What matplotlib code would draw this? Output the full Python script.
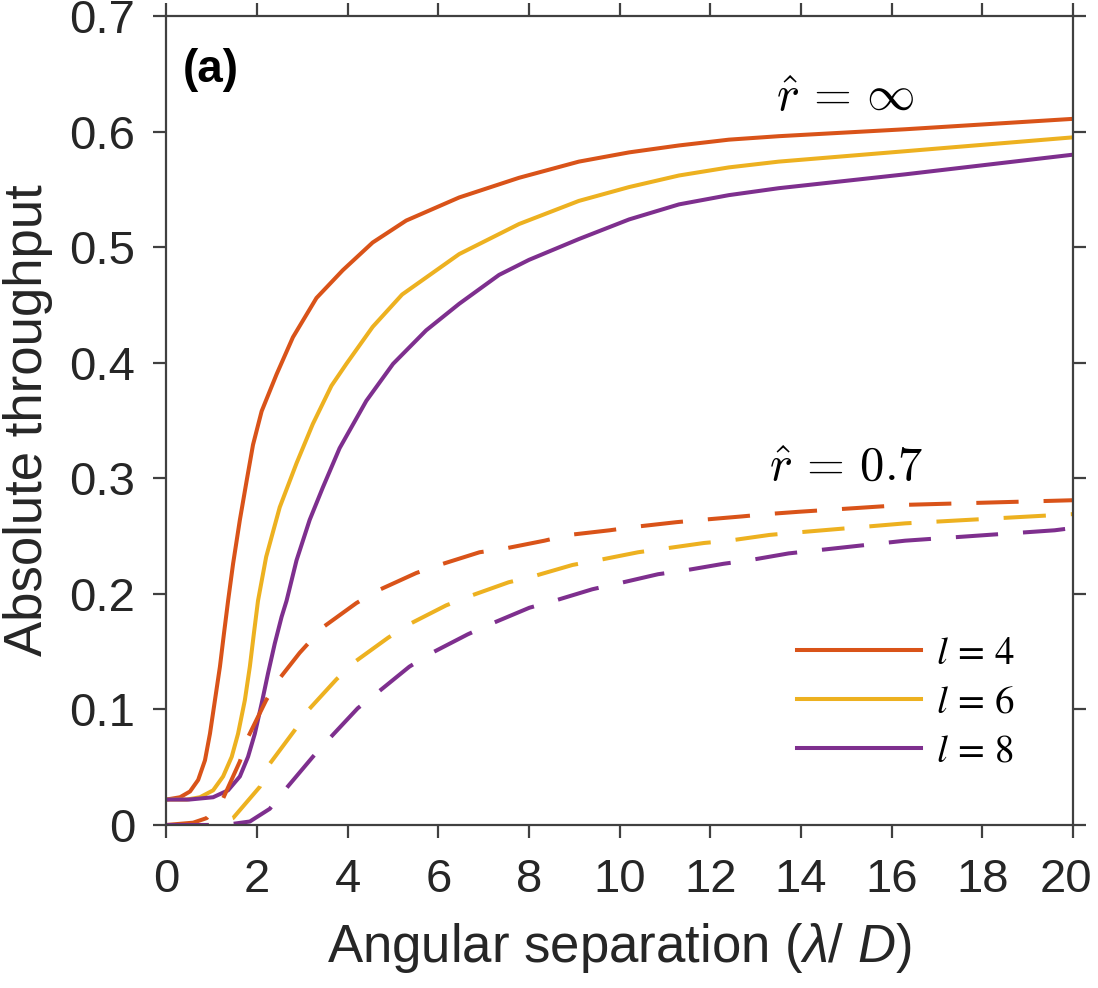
#Absolute throughput vs angular separation for l = 4, 6, 8 (solid: r=inf, dashed: r=0.7)

import numpy as np
import matplotlib
matplotlib.use('Agg')
import matplotlib.pyplot as plt
import matplotlib.transforms as mtransforms
from matplotlib.font_manager import FontProperties

plt.rcParams['font.family'] = ['Liberation Sans', 'DejaVu Sans']
plt.rcParams['mathtext.fontset'] = 'custom'
plt.rcParams['mathtext.rm'] = 'Liberation Sans'
plt.rcParams['mathtext.it'] = 'Liberation Sans:italic'

############
### DATA ###
############
charges = [4, 6, 8]
colors = ['#D95319', '#EDB120', '#7E2F8E']

# r = infinity (solid)
x_inf4 = [0, 0.3, 0.52, 0.70, 0.85, 0.96, 1.07, 1.18, 1.27, 1.36, 1.47, 1.62, 1.77, 1.91, 2.1, 2.43, 2.79, 3.31, 3.89, 4.55, 5.29, 6.46, 7.78, 9.1, 10.21, 11.31, 12.41, 13.51, 16.3, 20]
y_inf4 = [0.022, 0.024, 0.029, 0.039, 0.056, 0.079, 0.108, 0.137, 0.166, 0.194, 0.226, 0.264, 0.298, 0.329, 0.358, 0.390, 0.422, 0.456, 0.480, 0.504, 0.523, 0.543, 0.560, 0.574, 0.582, 0.588, 0.593, 0.596, 0.602, 0.611]

x_inf6 = [0, 0.45, 0.74, 1.03, 1.25, 1.44, 1.58, 1.73, 1.84, 1.93, 2.02, 2.2, 2.50, 2.87, 3.23, 3.64, 3.97, 4.55, 5.2, 6.46, 7.78, 9.1, 10.21, 11.31, 12.41, 13.51, 16.3, 20]
y_inf6 = [0.022, 0.022, 0.024, 0.030, 0.042, 0.059, 0.079, 0.108, 0.137, 0.166, 0.194, 0.232, 0.275, 0.313, 0.347, 0.380, 0.399, 0.431, 0.459, 0.494, 0.520, 0.540, 0.552, 0.562, 0.569, 0.574, 0.583, 0.595]

x_inf8 = [0, 0.5, 1.03, 1.36, 1.62, 1.80, 1.95, 2.1, 2.24, 2.39, 2.54, 2.65, 2.87, 3.16, 3.45, 3.82, 4.41, 5.0, 5.73, 6.46, 7.34, 8.0, 9.1, 10.21, 11.31, 12.41, 13.51, 16.3, 20]
y_inf8 = [0.022, 0.022, 0.024, 0.030, 0.042, 0.059, 0.079, 0.105, 0.131, 0.157, 0.180, 0.194, 0.229, 0.264, 0.292, 0.326, 0.367, 0.399, 0.428, 0.451, 0.476, 0.489, 0.507, 0.524, 0.537, 0.545, 0.551, 0.563, 0.580]

# r = 0.7 (dashed)
x_07_4 = [0, 0.59, 0.89, 1.25, 1.62, 1.80, 2.2, 2.50, 2.94, 3.45, 4.19, 4.67, 5.51, 6.02, 6.91, 7.44, 8.34, 8.89, 9.78, 10.34, 11.25, 11.8, 12.7, 13.25, 13.95, 16.3, 20]
y_07_4 = [0.0, 0.002, 0.006, 0.023, 0.055, 0.076, 0.108, 0.127, 0.149, 0.171, 0.192, 0.203, 0.218, 0.225, 0.236, 0.239, 0.246, 0.251, 0.255, 0.258, 0.262, 0.264, 0.267, 0.269, 0.271, 0.277, 0.281]

x_07_6 = [0, 1.0, 1.47, 2.06, 2.28, 2.83, 3.12, 3.75, 4.15, 4.89, 5.37, 6.17, 6.69, 7.55, 8.08, 8.96, 9.51, 10.41, 10.96, 11.86, 12.41, 13.31, 13.88, 16.3, 20]
y_07_6 = [0.0, 0.0, 0.006, 0.033, 0.053, 0.082, 0.099, 0.126, 0.141, 0.162, 0.174, 0.190, 0.198, 0.210, 0.215, 0.225, 0.229, 0.236, 0.239, 0.244, 0.246, 0.251, 0.253, 0.261, 0.269]

x_07_8 = [0, 1.2, 1.47, 1.84, 2.28, 2.65, 3.23, 3.6, 4.22, 4.67, 5.36, 5.86, 6.65, 7.16, 8.01, 8.56, 9.4, 9.97, 10.85, 11.4, 12.29, 12.85, 13.73, 16.3, 19.6, 20]
y_07_8 = [0.0, 0.0, 0.001, 0.003, 0.014, 0.032, 0.059, 0.075, 0.101, 0.115, 0.137, 0.149, 0.165, 0.174, 0.188, 0.194, 0.204, 0.209, 0.217, 0.220, 0.226, 0.229, 0.235, 0.246, 0.255, 0.257]

solid = [(x_inf4, y_inf4), (x_inf6, y_inf6), (x_inf8, y_inf8)]
dashed = [(x_07_4, y_07_4), (x_07_6, y_07_6), (x_07_8, y_07_8)]

############
### PLOT ###
############
fig = plt.figure(figsize=(10.98, 9.88), dpi=100)
ax = fig.add_axes([0.1516, 0.165, 0.8255, 0.8188])

for (X, Y), c, l in zip(solid, colors, charges):
  ax.plot(X, Y, color=c, lw=2.9, label=r'$l\,=\,%d$' % l)
for (X, Y), c in zip(dashed, colors):
  ax.plot(X, Y, color=c, lw=2.9, dashes=(10.5, 6.2))

ax.set_xlim(0, 20)
ax.set_ylim(0, 0.7)
ax.set_xticks(np.arange(0, 21, 2))
ax.set_yticks(np.arange(0, 0.71, 0.1))
ax.set_yticklabels(['0', '0.1', '0.2', '0.3', '0.4', '0.5', '0.6', '0.7'])

spine_col = '#404040'
for s in ax.spines.values():
  s.set_color(spine_col)
  s.set_linewidth(1.6)
ax.tick_params(direction='out', length=9.5, width=1.6, color=spine_col,
               labelsize=34, labelcolor='#262626', top=True, right=True)
ax.tick_params(axis='y', pad=13)
ax.tick_params(axis='x', pad=14)

#keep the last x tick label inside the figure
last = ax.get_xticklabels()[-1]
last.set_transform(last.get_transform() + mtransforms.ScaledTranslation(-7/100, 0, fig.dpi_scale_trans))

ax.set_xlabel(r'Angular separation ($\lambda$/ $D$)', fontsize=38, color='#262626', labelpad=14)
ax.set_ylabel('Absolute throughput', fontsize=38, color='#262626', labelpad=12)

ax.text(0.018, 0.933, '(a)', transform=ax.transAxes, fontsize=33, fontweight='bold',
        va='center', ha='left')
ax.text(13.45, 0.618, r'$\hat{r}\,=\,\infty$', fontsize=35, math_fontfamily='cm', va='baseline')
ax.text(13.29, 0.298, r'$\hat{r}\,=\,0.7$', fontsize=35, math_fontfamily='cm', va='baseline')

leg_font = FontProperties(family='Liberation Serif', size=28, math_fontfamily='stix')
ax.legend(loc='center left', bbox_to_anchor=(0.6955, 0.1508), frameon=False, prop=leg_font,
          borderpad=0, borderaxespad=0, handlelength=3.2, handletextpad=0.38, labelspacing=0.3)

fig.savefig('out.png', dpi=100)
